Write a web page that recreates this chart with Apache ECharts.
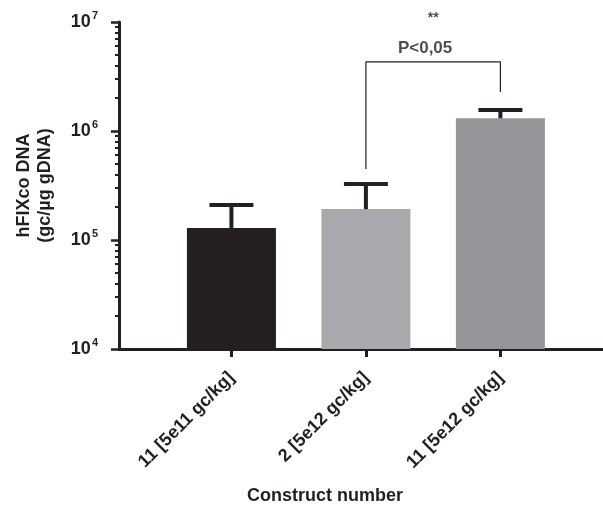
<!DOCTYPE html>
<html>
<head>
<meta charset="utf-8">
<script src="https://cdn.jsdelivr.net/npm/echarts@6/dist/echarts.min.js"></script>
<style>
  html, body { margin: 0; padding: 0; background: #fff; }
  #chart { width: 603px; height: 507px; }
</style>
</head>
<body>
<div id="chart"></div>
<script>
// values
const categories = ['11 [5e11 gc/kg]', '2 [5e12 gc/kg]', '11 [5e12 gc/kg]'];
const positions = [1, 2, 3];
const means = [1.29e5, 1.92e5, 1.31e6];
const errTops = [2.09e5, 3.27e5, 1.56e6];
const barColors = ['#231f20', '#a7a9ac', '#939598'];
const majorTicks = [1e4, 1e5, 1e6, 1e7];
const minorTicks = [];
[1e4, 1e5, 1e6].forEach(d => { for (let k = 2; k <= 9; k++) minorTicks.push(d * k); });
// significance bracket between bar 2 and bar 3
const bracketX = [2, 2, 3, 3];
const bracketY = [4.48e5, 4.3e6, 4.3e6, 2.28e6];
const sigLabels = ['P<0,05', '**'];
const sigX = [2.44, 2.5];
const sigY = [5.77e6, 1.09e7];
const sigSizes = [17, 14];

const FONT = '"Liberation Sans", Arial, sans-serif';
const INK = '#231f20';

const chart = echarts.init(document.getElementById('chart'));

const option = {
  animation: false,
  backgroundColor: '#fff',
  textStyle: {fontFamily: FONT},
  grid: {left: 119, right: 0, top: 22, bottom: 158},
  xAxis: {
    type: 'value',
    min: 0.164,
    max: 3.763,
    splitLine: {show: false},
    axisLine: {show: true, onZero: false, lineStyle: {color: INK, width: 3}},
    axisTick: {show: true, customValues: positions, length: 8, lineStyle: {color: INK, width: 3}},
    axisLabel: {
      customValues: positions,
      rotate: 45,
      margin: 26,
      color: INK,
      fontFamily: FONT,
      fontWeight: 'bold',
      fontSize: 18,
      formatter: v => categories[positions.indexOf(Math.round(v))] || ''
    }
  },
  yAxis: [{
    type: 'log',
    logBase: 10,
    min: 1e4,
    max: 1e7,
    name: 'hFIXco DNA\n(gc/µg gDNA)',
    nameLocation: 'middle',
    nameGap: 63,
    nameTextStyle: {color: INK, fontFamily: FONT, fontWeight: 'bold', fontSize: 18, lineHeight: 21},
    splitLine: {show: false},
    axisLine: {show: true, lineStyle: {color: INK, width: 3}},
    axisTick: {show: true, customValues: majorTicks, length: 8, lineStyle: {color: INK, width: 2.5}},
    axisLabel: {
      customValues: majorTicks,
      margin: 21,
      color: INK,
      formatter: v => '{b|10}{s|' + Math.round(Math.log10(v)) + '}',
      rich: {
        b: {fontFamily: FONT, fontWeight: 'bold', fontSize: 18, color: INK},
        s: {fontFamily: FONT, fontWeight: 'bold', fontSize: 11, color: INK, verticalAlign: 'top', padding: [0, 0, 12, 1]}
      }
    }
  }, {
    type: 'log',
    logBase: 10,
    min: 1e4,
    max: 1e7,
    position: 'left',
    splitLine: {show: false},
    axisLine: {show: false},
    axisLabel: {show: false},
    axisTick: {show: true, customValues: minorTicks, length: 4, lineStyle: {color: INK, width: 2}}
  }],
  series: [{
    type: 'bar',
    barWidth: 89,
    data: positions.map((x, i) => ({value: [x, means[i]], itemStyle: {color: barColors[i]}})),
    z: 2
  }, {
    type: 'custom',
    z: 3,
    data: positions.map((x, i) => [x, means[i], errTops[i]]),
    renderItem: (params, api) => {
      const base = api.coord([api.value(0), api.value(1)]);
      const top = api.coord([api.value(0), api.value(2)]);
      return {
        type: 'group',
        children: [{
          type: 'line',
          shape: {x1: base[0], y1: base[1], x2: top[0], y2: top[1]},
          style: {stroke: INK, lineWidth: 4}
        }, {
          type: 'line',
          shape: {x1: top[0] - 22, y1: top[1], x2: top[0] + 22, y2: top[1]},
          style: {stroke: INK, lineWidth: 4}
        }]
      };
    }
  }, {
    type: 'line',
    symbol: 'none',
    clip: false,
    z: 4,
    lineStyle: {color: INK, width: 1.2},
    data: bracketX.map((x, i) => [x, bracketY[i]])
  }, {
    type: 'scatter',
    symbolSize: 0,
    clip: false,
    z: 5,
    data: sigLabels.map((t, i) => ({
      value: [sigX[i], sigY[i]],
      name: t,
      label: {fontSize: sigSizes[i]}
    })),
    label: {
      show: true,
      position: 'inside',
      formatter: p => p.name,
      color: INK,
      fontFamily: FONT,
      fontWeight: 'bold'
    }
  }],
  graphic: [{
    type: 'text',
    left: 247,
    top: 487,
    style: {text: 'Construct number', fill: INK, font: 'bold 18px ' + FONT}
  }]
};

chart.setOption(option);
</script>
</body>
</html>
